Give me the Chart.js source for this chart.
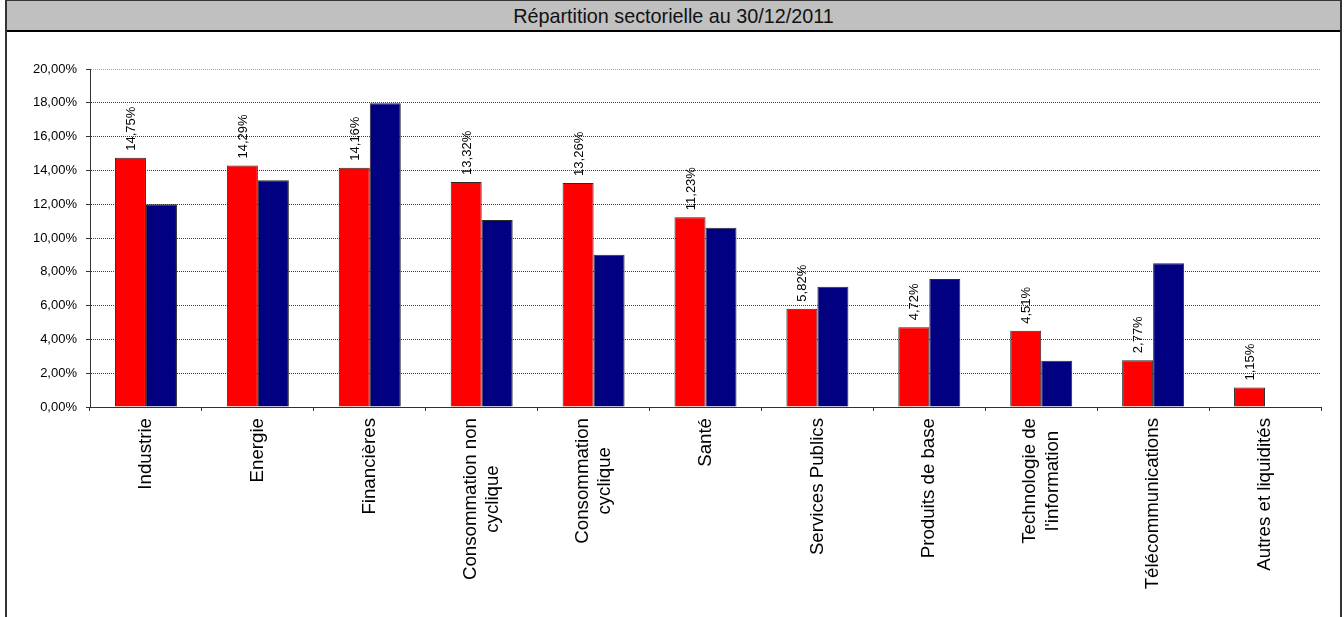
<!DOCTYPE html>
<html>
<head>
<meta charset="utf-8">
<script src="https://cdn.jsdelivr.net/npm/chart.js@4.4.0/dist/chart.umd.min.js"></script>
<style>
  html, body { margin: 0; padding: 0; background: #ffffff; width: 1344px; height: 617px; overflow: hidden; }
  #frame { position: absolute; left: 5px; top: 0px; width: 1333px; height: 700px; border: 2px solid #333; border-top-width: 1px; box-sizing: content-box; }
  #titlebar { position: absolute; left: 0; top: 0; width: 100%; height: 29px; background: #c0c0c0; border-bottom: 2px solid #000;
    font-family: "Liberation Sans", Arial, sans-serif; font-size: 19.8px; color: #111; text-align: center; line-height: 30px; }
  #c { position: absolute; left: 0; top: 0; }
</style>
</head>
<body>
<div id="frame"><div id="titlebar">Répartition sectorielle au 30/12/2011</div></div>
<canvas id="c" width="1344" height="617"></canvas>
<script>
const categories = ['Industrie', 'Energie', 'Financières', ['Consommation non', 'cyclique'], ['Consommation', 'cyclique'], 'Santé', 'Services Publics', 'Produits de base', ['Technologie de', "l'information"], 'Télécommunications', 'Autres et liquidités'];
const fundValues = [14.75, 14.29, 14.16, 13.32, 13.26, 11.23, 5.82, 4.72, 4.51, 2.77, 1.15];
const benchmarkValues = [12.0, 13.42, 17.97, 11.07, 9.01, 10.6, 7.12, 7.57, 2.74, 8.5, null];
const yMin = 0, yMax = 20, yStep = 2;

const FONT = '"Liberation Sans", Arial, sans-serif';
const fmt = v => v.toFixed(2).replace('.', ',') + '%';

const dataLabelPlugin = {
  id: 'dataLabels',
  afterDatasetsDraw(chart) {
    const meta = chart.getDatasetMeta(0);
    const ctx = chart.ctx;
    ctx.save();
    ctx.font = '13px ' + FONT;
    ctx.fillStyle = '#000';
    ctx.textAlign = 'left';
    ctx.textBaseline = 'middle';
    meta.data.forEach((bar, i) => {
      const v = fundValues[i];
      if (v == null) return;
      ctx.save();
      ctx.translate(bar.x + 1, bar.y - 7);
      ctx.rotate(-Math.PI / 2);
      ctx.fillText(fmt(v), 0, 0);
      ctx.restore();
    });
    ctx.restore();
  }
};

const centerLabelsPlugin = {
  id: 'centerLabels',
  beforeDraw(chart) {
    const scale = chart.scales.x;
    if (scale._patchedLabels) return;
    scale._patchedLabels = true;
    const orig = scale.getLabelItems.bind(scale);
    scale.getLabelItems = function (ca) {
      const items = orig(ca);
      if (items._patched) return items;
      const ctx = chart.ctx;
      items.forEach(it => {
        const lines = Array.isArray(it.label) ? it.label : [it.label];
        ctx.save();
        ctx.font = it.font.string;
        const maxW = Math.max(...lines.map(l => ctx.measureText(l).width));
        ctx.restore();
        const lh = it.font.lineHeight;
        const t = it.options.translation;
        it.options.textAlign = 'center';
        it.options.translation = [t[0] - lh * (lines.length - 1) / 2, t[1] + maxW / 2];
      });
      items._patched = true;
      return items;
    };
  }
};

new Chart(document.getElementById('c'), {
  type: 'bar',
  data: {
    labels: categories,
    datasets: [
      { label: 'Fonds', data: fundValues, backgroundColor: '#ff0000', borderColor: '#2a2a2a', borderWidth: 1, categoryPercentage: 0.554, barPercentage: 1.0 },
      { label: 'Indice', data: benchmarkValues, backgroundColor: '#000080', borderColor: '#2a2a2a', borderWidth: 1, categoryPercentage: 0.554, barPercentage: 1.0 }
    ]
  },
  options: {
    responsive: false,
    animation: false,
    devicePixelRatio: 1,
    layout: { padding: { left: 0, top: 69, right: 23, bottom: 0 } },
    plugins: { legend: { display: false }, tooltip: { enabled: false }, title: { display: false } },
    scales: {
      x: {
        grid: { display: true, drawOnChartArea: false, drawTicks: true, tickLength: 4, tickColor: '#333', offset: true },
        border: { display: true, color: '#333', width: 1 },
        ticks: { autoSkip: false, minRotation: 90, maxRotation: 90, padding: 7, color: '#000', font: { family: FONT, size: 18.7, lineHeight: 1.2 } },
        afterFit(s) { s.height = 210; }
      },
      y: {
        min: yMin, max: yMax,
        grid: {
          color: c => (c.tick && c.tick.value === yMax) ? '#a8a8a8' : (c.tick && c.tick.value === yMin ? 'rgba(0,0,0,0)' : '#3a3a3a'),
          lineWidth: 1, drawTicks: true, tickLength: 4, tickColor: '#333'
        },
        border: { display: true, color: '#333', width: 1, dash: [1, 1] },
        ticks: { stepSize: yStep, padding: 9, color: '#000', font: { family: FONT, size: 13 }, callback: v => fmt(v) },
        afterFit(s) { s.width = 90; }
      }
    }
  },
  plugins: [dataLabelPlugin, centerLabelsPlugin]
});
</script>
</body>
</html>
